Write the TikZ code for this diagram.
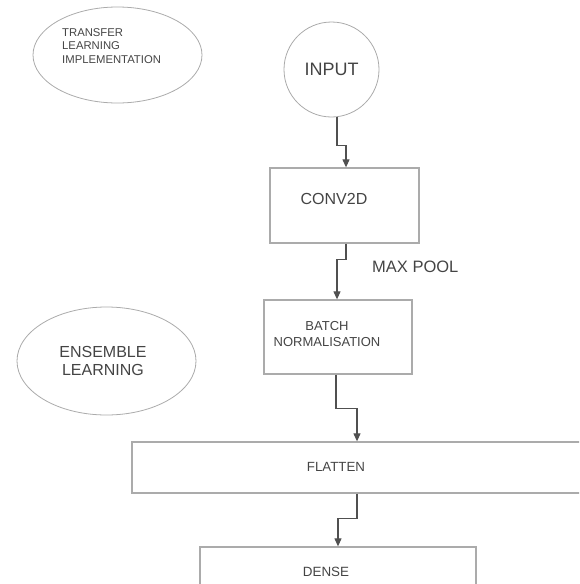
\documentclass[tikz,border=0pt]{standalone}
\usepackage{fontspec}
\setmainfont{Liberation Sans}
\usetikzlibrary{shapes.geometric,arrows.meta}
\definecolor{linegray}{HTML}{ABABAB}
\definecolor{inkgray}{HTML}{444444}
\definecolor{arrowgray}{HTML}{505050}
\tikzset{
  blk/.style={draw=linegray,line width=1.3pt,rectangle,inner sep=0pt},
  oval/.style={draw=linegray,line width=0.8pt,ellipse,inner sep=0pt},
  ring/.style={draw=linegray,line width=0.8pt,circle,inner sep=0pt},
  txt/.style={text=inkgray,inner sep=0pt,align=center},
  conn/.style={draw=arrowgray,line width=1.1pt,-{Triangle[length=8pt,width=7pt]}},
}
\newcommand{\fs}[1]{\fontsize{#1}{1.2\dimexpr#1pt\relax}\selectfont}
\begin{document}
\begin{tikzpicture}[x=1pt,y=-1pt]
\useasboundingbox (0,0) rectangle (579,584);
\clip (0,0) rectangle (579,584);
% side notes
\node[oval,minimum width=169pt,minimum height=96pt] (transfer) at (117.5,55) {};
\node[txt,align=left,anchor=north west,font=\fontsize{11.3}{13.5}\selectfont] (transfertxt) at (62,28) {TRANSFER\\LEARNING\\IMPLEMENTATION};
\node[oval,minimum width=179pt,minimum height=108pt] (ensemble) at (106.5,361) {};
\node[txt,font=\fontsize{16}{18}\selectfont] (ensembletxt) at (103,361) {ENSEMBLE\\LEARNING};
% main flow
\node[ring,minimum size=95pt,text=inkgray,font=\fs{18}] (inp) at (331.5,69.5) {INPUT};
\node[blk,minimum width=149pt,minimum height=75pt] (conv) at (344.5,205.5) {};
\node[txt,font=\fs{16}] (convtxt) at (334,199) {CONV2D};
\node[blk,minimum width=148pt,minimum height=74pt] (batch) at (338,337) {};
\node[txt,font=\fontsize{13}{16}\selectfont] (batchtxt) at (327,334) {BATCH\\NORMALISATION};
\node[blk,minimum width=468pt,minimum height=51pt] (flatten) at (366,467.5) {};
\node[txt,font=\fs{13.3}] (flattentxt) at (336,467) {FLATTEN};
\node[blk,minimum width=276pt,minimum height=53pt] (dense) at (338,573.5) {};
\node[txt,font=\fs{13.4}] (densetxt) at (326,572) {DENSE};
\node[txt,anchor=west,font=\fs{16.5}] (maxpool) at (372,267) {MAX POOL};
% connectors
\draw[conn] ([xshift=5.5pt]inp.south) -- ++(0,28) -| ([xshift=1.5pt]conv.north);
\draw[conn] ([xshift=1.5pt]conv.south) -- ++(0,16) -| ([xshift=-1pt]batch.north);
\draw[conn] ([xshift=-2pt]batch.south) -- ++(0,34) -| ([xshift=-9pt]flatten.north);
\draw[conn] ([xshift=-9pt]flatten.south) -- ++(0,25) -| (dense.north);
\end{tikzpicture}
\end{document}
